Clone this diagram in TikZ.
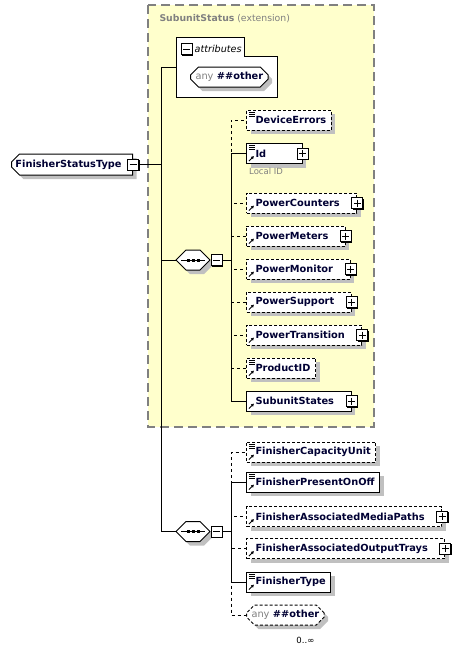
\documentclass[tikz,border=0pt]{standalone}
\usepackage{fontspec}
\usepackage{tikz}
\usetikzlibrary{shapes.misc,shadows,arrows.meta,positioning}
\newfontfamily\diagfont{DejaVu Sans}
\definecolor{extfill}{RGB}{255,255,204}
\definecolor{extline}{RGB}{128,128,128}
\definecolor{shade}{RGB}{192,192,192}
\definecolor{navy}{RGB}{0,0,51}
\newcommand{\elemfont}{\diagfont\bfseries\fontsize{9.8}{12}\selectfont}
\newcommand{\smallfont}{\diagfont\fontsize{8.5}{10}\selectfont}
\newcommand{\simplemark}{\foreach \dy in {2,4,6} \draw[solid, line width=0.8pt]
  ([xshift=2.5pt,yshift=-\dy pt]path picture bounding box.north west) -- ++(6pt,0pt);}
\newcommand{\refmark}{\draw[solid, line width=1pt, -{Latex[length=3pt,width=3.5pt]}]
  ([xshift=2.5pt,yshift=2.5pt]path picture bounding box.south west) -- ++(5pt,5pt);}
\tikzstyle{shadowed} = [drop shadow={shadow xshift=4pt, shadow yshift=-4pt, fill=shade, opacity=1}]
\tikzstyle{element} = [rectangle, draw, line width=1pt, fill=white, shadowed, anchor=west,
  minimum height=20pt, inner xsep=0pt, inner ysep=0pt, text=navy, font=\elemfont,
  execute at begin node=\hspace*{9pt}, execute at end node=\hspace*{5pt}]
\tikzstyle{optional} = [element, dash pattern=on 3pt off 2pt]
\tikzstyle{expandable} = [execute at end node=\hspace*{12pt}]
\tikzstyle{simple} = [path picture={\simplemark}]
\tikzstyle{reference} = [path picture={\refmark}]
\tikzstyle{simpleref} = [path picture={\simplemark\refmark}]
\tikzstyle{box} = [rectangle, draw, line width=1pt, fill=white, minimum size=11pt, inner sep=0pt,
  drop shadow={shadow xshift=1pt, shadow yshift=-1pt, fill=black, opacity=1}]
\tikzstyle{minus} = [box, path picture={\draw[line width=1pt]
  ([xshift=2pt]path picture bounding box.west) -- ([xshift=-2pt]path picture bounding box.east);}]
\tikzstyle{plus} = [box, path picture={\draw[line width=1pt]
  ([xshift=2pt]path picture bounding box.west) -- ([xshift=-2pt]path picture bounding box.east)
  ([yshift=-2pt]path picture bounding box.north) -- ([yshift=2pt]path picture bounding box.south);}]
\tikzstyle{compositor} = [chamfered rectangle, chamfered rectangle xsep=5pt, chamfered rectangle ysep=5pt,
  draw, line width=1pt, fill=white, shadowed, minimum width=34pt, minimum height=20pt, inner sep=0pt,
  path picture={\draw[line width=1pt] ([xshift=-12pt]path picture bounding box.center) -- ([xshift=12pt]path picture bounding box.center);
    \foreach \dx in {-5,0,5} \fill[black] ([xshift=\dx pt]path picture bounding box.center) +(-1.5pt,-1.5pt) rectangle +(1.5pt,1.5pt);}]
\tikzstyle{root} = [chamfered rectangle, chamfered rectangle corners={north west,south west},
  chamfered rectangle xsep=4pt, chamfered rectangle ysep=4pt, draw, line width=1pt, fill=white, shadowed,
  anchor=west, minimum height=21pt, inner xsep=0pt, inner ysep=0pt, text=navy, font=\elemfont,
  execute at begin node=\hspace*{0pt}, execute at end node=\hspace*{7pt}]
\tikzstyle{wildcard} = [chamfered rectangle, chamfered rectangle xsep=4pt, chamfered rectangle ysep=4pt,
  draw, line width=1pt, fill=white, shadowed, anchor=west, minimum height=20pt, inner xsep=1pt,
  inner ysep=0pt, text=navy, font=\elemfont]
\tikzstyle{line} = [draw, line width=1pt]
\tikzstyle{optline} = [line, dash pattern=on 3pt off 3pt]

\begin{document}
\begin{tikzpicture}[x=1pt, y=-1pt]
  \useasboundingbox (0,0) rectangle (468,651);
  \path[fill=extfill, draw=extline, line width=1.2pt, dash pattern=on 9pt off 5pt] (148,5) rectangle (374,427);
  \node[anchor=west, text=extline, font=\diagfont\fontsize{9.3}{11}\selectfont] (ext) at (156,19)
    {\textbf{SubunitStatus} (extension)};

  \node[root] (fst) at (11,164.5) {FinisherStatusType};
  \node[minus] (fstm) at (fst.east) {};
  \coordinate (trunk) at (161,164.5);

  \node[inner sep=0pt, minimum width=100pt, minimum height=59pt] (attr) at (227,67.5) {};
  \path[line, fill=white] (attr.north west) -- ++(68,0) -- ++(0,19) -| (attr.south east)
    -- (attr.south west) -- cycle;
  \node[minus] (attrm) at (186.5,49) {};
  \node[right=2pt of attrm, inner sep=0pt, font=\diagfont\itshape\fontsize{9.6}{11}\selectfont] (attrlbl) {attributes};
  \node[wildcard] (anyattr) at (190,77) {\textcolor{extline}{\mdseries any} \#\#other};

  \node[compositor] (seq1) at (193,260) {\rule{0pt}{10pt}\rule{24pt}{0pt}};
  \node[minus, right=0pt of seq1] (seq1m) {};
  \coordinate (bus1) at (231,260);

  \node[optional, simple] (de) at (246,120) {DeviceErrors};
  \node[element, simpleref, execute at end node=\hspace*{31pt}] (id) at (246,153.5) {Id};
  \node[plus] (idx) at (id.east) {};
  \node[below right=4pt and 3pt of id.south west, inner sep=0pt, text=extline, font=\smallfont] (idnote) {Local ID};
  \node[optional, reference, expandable] (pc) at (246,203) {PowerCounters};
  \node[plus] (pcx) at (pc.east) {};
  \node[optional, reference, expandable] (pme) at (246,236) {PowerMeters};
  \node[plus] (pmex) at (pme.east) {};
  \node[optional, reference, expandable] (pmo) at (246,269) {PowerMonitor};
  \node[plus] (pmox) at (pmo.east) {};
  \node[optional, reference, expandable] (ps) at (246,302) {PowerSupport};
  \node[plus] (psx) at (ps.east) {};
  \node[optional, reference, expandable] (pt) at (246,335) {PowerTransition};
  \node[plus] (ptx) at (pt.east) {};
  \node[optional, simpleref] (pid) at (246,368) {ProductID};
  \node[element, reference, expandable] (ss) at (246,401) {SubunitStates};
  \node[plus] (ssx) at (ss.east) {};

  \node[compositor] (seq2) at (193,531.5) {\rule{0pt}{10pt}\rule{24pt}{0pt}};
  \node[minus, right=0pt of seq2] (seq2m) {};
  \coordinate (bus2) at (231,531.5);

  \node[optional, simpleref] (fcu) at (246,452) {FinisherCapacityUnit};
  \node[element, simpleref] (fpo) at (246,482) {FinisherPresentOnOff};
  \node[optional, reference, expandable] (famp) at (246,516.5) {FinisherAssociatedMediaPaths};
  \node[plus] (fampx) at (famp.east) {};
  \node[optional, reference, expandable] (faot) at (246,548.5) {FinisherAssociatedOutputTrays};
  \node[plus] (faotx) at (faot.east) {};
  \node[element, simpleref] (ft) at (246,582) {FinisherType};
  \node[wildcard, dash pattern=on 3pt off 2pt] (anyel) at (246,615) {\textcolor{extline}{\mdseries any} \#\#other};
  \node[below left=16pt and 6pt of anyel.south east, inner sep=0pt, font=\smallfont] (occ) {0..∞};

  \path[line] (fstm) -- (trunk);
  \path[line] (attr.west) -| (trunk);
  \path[line] (trunk) |- (seq1);
  \path[line] (trunk) |- (seq2);

  \path[line] (seq1m) -- (bus1);
  \path[optline] (bus1) |- (de);
  \path[optline] (bus1) |- (pc);
  \path[optline] (bus1) |- (pme);
  \path[optline] (bus1) |- (pmo);
  \path[optline] (bus1) |- (ps);
  \path[optline] (bus1) |- (pt);
  \path[optline] (bus1) |- (pid);
  \path[line] (bus1) |- (id);
  \path[line] (bus1) |- (ss);

  \path[line] (seq2m) -- (bus2);
  \path[optline] (bus2) |- (fcu);
  \path[optline] (bus2) |- (famp);
  \path[optline] (bus2) |- (faot);
  \path[optline] (bus2) |- (anyel);
  \path[line] (bus2) |- (fpo);
  \path[line] (bus2) |- (ft);
\end{tikzpicture}
\end{document}
